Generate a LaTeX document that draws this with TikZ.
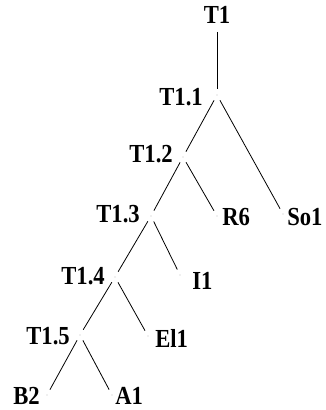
\documentclass[tikz,border=0pt]{standalone}
\usepackage{fontspec}
\newfontfamily\lblfont[FakeStretch=0.87]{Liberation Serif}
\begin{document}
\begin{tikzpicture}[x=0.75pt,y=-0.75pt,
  pt/.style={circle,fill=gray!50,inner sep=0pt,minimum size=0.8pt},
  txt/.style={inner sep=0pt,font=\lblfont\fontsize{19.5}{22}\selectfont\bfseries},
  edge/.style={draw=black,line width=0.6pt,shorten <=4pt,shorten >=4pt}]
\useasboundingbox (0,0) rectangle (325,410);
% tree points
\node[txt] (t1) at (217,15) {T1};
\node[pt] (n11) at (217,95) {};
\node[pt] (n12) at (183,157) {};
\node[pt] (n13) at (151,216) {};
\node[pt] (r6) at (217,216) {};
\node[pt] (so1) at (283,214) {};
\node[pt] (n14) at (115,277) {};
\node[pt] (i1) at (180,275) {};
\node[pt] (n15) at (80,335) {};
\node[pt] (el1) at (148,336) {};
\node[pt] (b2) at (47,395) {};
\node[pt] (a1) at (112,395) {};
% labels
\node[txt,anchor=east] (l11) at (203,97) {T1.1};
\node[txt,anchor=east] (l12) at (173,154) {T1.2};
\node[txt,anchor=east] (l13) at (140,214) {T1.3};
\node[txt,anchor=east] (l14) at (105,276) {T1.4};
\node[txt,anchor=east] (l15) at (70,336) {T1.5};
\node[txt,anchor=west] (lr6) at (222,217) {R6};
\node[txt,anchor=west] (lso1) at (287,217) {So1};
\node[txt,anchor=west] (li1) at (192,281) {I1};
\node[txt,anchor=west] (lel1) at (155,338) {El1};
\node[txt,anchor=east] (lb2) at (40,396) {B2};
\node[txt,anchor=west] (la1) at (115,396) {A1};
% edges
\draw[edge,shorten <=6pt] (t1) -- (n11);
\draw[edge] (n11) -- (n12);
\draw[edge] (n11) -- (so1);
\draw[edge] (n12) -- (n13);
\draw[edge] (n12) -- (r6);
\draw[edge] (n13) -- (n14);
\draw[edge] (n13) -- (i1);
\draw[edge] (n14) -- (n15);
\draw[edge] (n14) -- (el1);
\draw[edge] (n15) -- (b2);
\draw[edge] (n15) -- (a1);
\end{tikzpicture}
\end{document}
